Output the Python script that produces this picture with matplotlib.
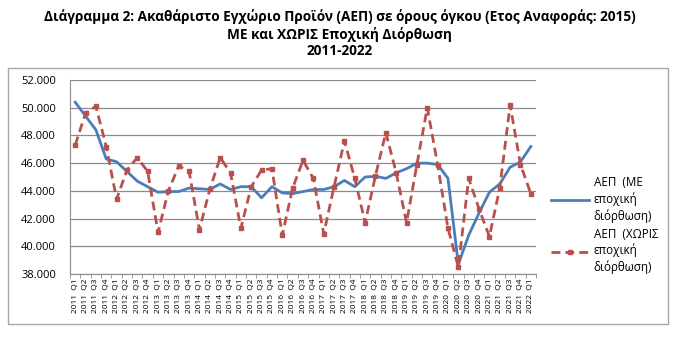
import matplotlib
matplotlib.use("Agg")
import matplotlib.pyplot as plt
from matplotlib.ticker import FuncFormatter, FixedLocator
from matplotlib.patches import Rectangle

plt.rcParams['font.family'] = ['Open Sans', 'DejaVu Sans']

# Τριμηνιαία στοιχεία 2011 Q1 - 2022 Q1 (εκατ. ευρώ)
years = [2011] * 4 + [2012] * 4 + [2013] * 4 + [2014] * 4 + [2015] * 4 + [2016] * 4 \
    + [2017] * 4 + [2018] * 4 + [2019] * 4 + [2020] * 4 + [2021] * 4 + [2022]
quarters = ['Q1', 'Q2', 'Q3', 'Q4'] * 11 + ['Q1']
labels = [f"{y}  {q}" for y, q in zip(years, quarters)]

gdp_sa = [50400, 49400, 48400, 46300, 46100, 45400, 44700, 44300,
          43900, 43950, 43950, 44200, 44150, 44100, 44500, 44100,
          44300, 44300, 43500, 44300, 43850, 43800, 43950, 44100,
          44100, 44300, 44750, 44300, 45000, 45050, 44900, 45300,
          45600, 46000, 46000, 45900, 44900, 38700, 40800, 42400,
          43900, 44500, 45700, 46100, 47200]

gdp_nsa = [47300, 49600, 50100, 47200, 43400, 45500, 46400, 45400,
           41000, 44000, 45800, 45400, 41200, 44100, 46400, 45300,
           41300, 44300, 45500, 45600, 40800, 44200, 46200, 44900,
           40900, 44300, 47600, 44900, 41700, 45100, 48200, 45300,
           41700, 45900, 50000, 45900, 41300, 38500, 44900, 42700,
           40700, 44200, 50200, 45900, 43800]

blue = '#4A7EBB'
red = '#B9504D'

fig = plt.figure(figsize=(6.79, 3.53), dpi=100)
W, H = 679, 353

# πλαίσιο γραφήματος
fig.patches.append(Rectangle((8 / W, 1 - 324 / H), 660 / W, 256 / H,
                             transform=fig.transFigure, fill=False,
                             edgecolor='#A6A6A6', linewidth=1.0))

fig.text(0.5, 1 - 17 / H,
         'Διάγραμμα 2: Ακαθάριστο Εγχώριο Προϊόν (ΑΕΠ) σε όρους όγκου (Ετος Αναφοράς: 2015)',
         ha='center', va='center', fontsize=9.8, fontweight='bold')
fig.text(0.5, 1 - 34 / H, 'ΜΕ και ΧΩΡΙΣ Εποχική Διόρθωση',
         ha='center', va='center', fontsize=9.8, fontweight='bold')
fig.text(0.5, 1 - 51 / H, '2011-2022',
         ha='center', va='center', fontsize=9.8, fontweight='bold')

ax = fig.add_axes([70 / W, 1 - 274 / H, 466 / W, 194 / H])
x = list(range(len(labels)))

ax.plot(x, gdp_sa, color=blue, linewidth=2.0, label='ΑΕΠ  (ΜΕ\nεποχική\nδιόρθωση)', zorder=3)
ax.plot(x, gdp_nsa, color=red, linewidth=2.0, linestyle=(0, (3.2, 1.8)),
        marker='s', markersize=3.2, label='ΑΕΠ  (ΧΩΡΙΣ\nεποχική\nδιόρθωση)', zorder=3)

ax.set_xlim(-0.5, len(labels) - 0.5)
ax.set_ylim(38000, 52000)
ax.set_yticks(range(38000, 52001, 2000))
ax.yaxis.set_major_formatter(FuncFormatter(lambda v, p: f"{v / 1000:.3f}"))
ax.grid(axis='y', color='#8C8C8C', linewidth=0.9)
ax.set_axisbelow(True)

ax.set_xticks(x)
ax.set_xticklabels(labels, rotation=90, fontsize=6)
ax.xaxis.set_minor_locator(FixedLocator([i - 0.5 for i in range(len(labels) + 1)]))
ax.tick_params(axis='x', which='major', length=0, pad=3)
ax.tick_params(axis='x', which='minor', length=3, color='#8C8C8C', direction='out')
ax.tick_params(axis='y', length=0, labelsize=8, pad=10)

for side in ['top', 'right']:
    ax.spines[side].set_visible(False)
ax.spines['left'].set_color('#8C8C8C')
ax.spines['bottom'].set_color('#8C8C8C')

leg = fig.legend(loc='upper left', bbox_to_anchor=(540 / W, 1 - 166 / H),
                 frameon=False, fontsize=8.4, handlelength=3.3, labelspacing=0.45,
                 handletextpad=0.4)
for t in leg.get_texts():
    t.set_linespacing(1.25)

fig.savefig('out.png', dpi=100)
